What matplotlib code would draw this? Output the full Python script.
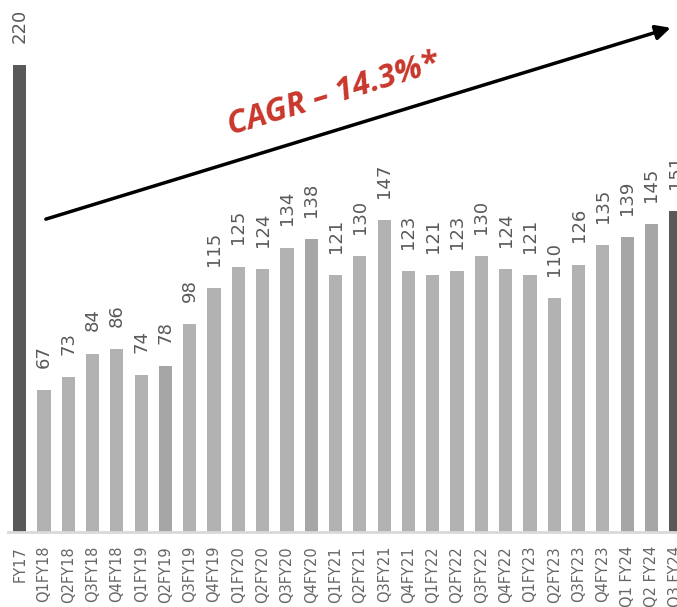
import matplotlib.pyplot as plt

periods = ["FY17", "Q1FY18", "Q2FY18", "Q3FY18", "Q4FY18", "Q1FY19", "Q2FY19",
           "Q3FY19", "Q4FY19", "Q1FY20", "Q2FY20", "Q3FY20", "Q4FY20", "Q1FY21",
           "Q2FY21", "Q3FY21", "Q4FY21", "Q1FY22", "Q2FY22", "Q3FY22", "Q4FY22",
           "Q1FY23", "Q2FY23", "Q3FY23", "Q4FY23", "Q1 FY24", "Q2 FY24", "Q3 FY24"]
values = [220, 67, 73, 84, 86, 74, 78, 98, 115, 125, 124, 134, 138, 121,
          130, 147, 123, 121, 123, 130, 124, 121, 110, 126, 135, 139, 145, 151]

dark = "#595959"
light = "#b2b2b2"
mid = "#a6a6a6"
colors = [light] * len(values)
colors[0] = dark
colors[-1] = dark
for i in (6, 12, 25, 26):
    colors[i] = mid

fig = plt.figure(figsize=(6.77, 6.07), dpi=100)
ax = fig.add_axes([7.5 / 677, 75 / 607, 680.4 / 677, 532 / 607])

x = range(len(values))
ax.bar(x, values, width=0.54, color=colors)
ax.set_xlim(-0.5, len(values) - 0.5)
ax.set_ylim(0, 250.6)

for xi, v in zip(x, values):
    ax.annotate(str(v), (xi, v), xytext=(0, 16), textcoords="offset points",
                rotation=90, ha="center", va="bottom", fontsize=13, color=dark)

ax.set_xticks(list(x))
ax.set_xticklabels(periods, rotation=90, fontsize=10.5, color="#666666")
ax.tick_params(axis="x", length=0, pad=10)
ax.set_yticks([])
for s in ("left", "right", "top"):
    ax.spines[s].set_visible(False)
ax.spines["bottom"].set_color("#d9d9d9")
ax.spines["bottom"].set_linewidth(2)

# trend arrow and CAGR text
ax.annotate("", xy=(26.9, 237.9), xytext=(0.97, 147),
            arrowprops=dict(arrowstyle="-|>", color="black", lw=2.5,
                            mutation_scale=22))
ax.text(12.9, 206, "CAGR – 14.3%*", rotation=17, ha="center", va="center",
        fontsize=23, fontweight="bold", fontstyle="italic", color="#c9372c",
        family="Open Sans")

fig.savefig("out.png", dpi=100)
